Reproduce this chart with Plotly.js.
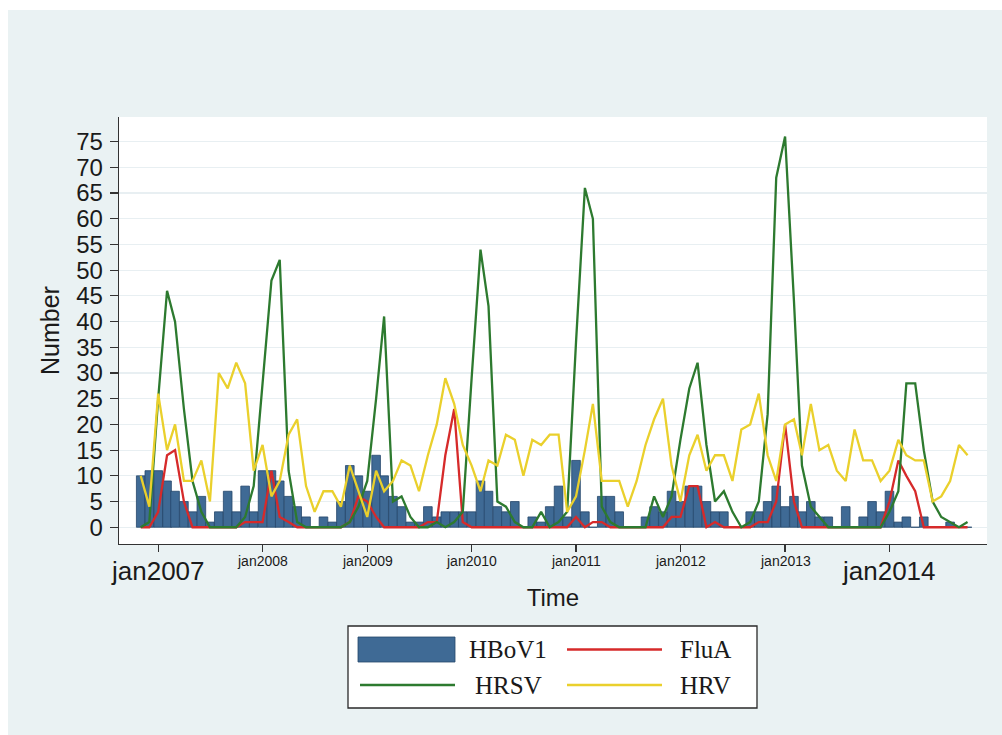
<!DOCTYPE html>
<html>
<head>
<meta charset="utf-8">
<script src="https://cdn.plot.ly/plotly-3.0.1.min.js"></script>
<style>html,body{margin:0;padding:0;background:#fff;}#chart{width:1002px;height:735px;}</style>
</head>
<body>
<div id="chart"></div>
<script>
// ---------- DATA (monthly, Nov 2006 .. Oct 2014) ----------
const startYear = 2006, startMonth = 11, nMonths = 96;

// HBoV1 (bars)
const hbov1 = [
  10, 11,                                   // 2006 Nov-Dec
  11, 9, 7, 5, 3, 6, 1, 3, 7, 3, 8, 3,      // 2007
  11, 11, 9, 6, 4, 2, 0, 2, 1, 5, 12, 10,   // 2008
  7, 14, 10, 6, 4, 1, 1, 4, 2, 3, 3, 3,     // 2009
  3, 9, 7, 4, 3, 5, 0, 2, 1, 4, 8, 2,       // 2010
  13, 3, 0, 6, 6, 3, 0, 0, 2, 4, 3, 7,      // 2011
  5, 8, 8, 5, 3, 3, 0, 0, 3, 3, 5, 8,       // 2012
  4, 6, 3, 5, 2, 2, 0, 4, 0, 2, 5, 3,       // 2013
  7, 1, 2, 0, 2, 0, 0, 1, 0, 0              // 2014 Jan-Oct
];
// FluA (red)
const fluA = [
  0, 0,
  3, 14, 15, 5, 0, 0, 0, 0, 0, 0, 1, 1,
  1, 11, 2, 1, 0, 0, 0, 0, 0, 0, 1, 6,
  5, 2, 0, 0, 0, 0, 0, 1, 1, 14, 23, 1,
  0, 0, 0, 0, 0, 0, 0, 0, 0, 0, 0, 0,
  2, 0, 1, 1, 0, 0, 0, 0, 0, 0, 0, 2,
  2, 8, 8, 0, 1, 0, 0, 0, 0, 1, 1, 5,
  20, 5, 0, 0, 0, 0, 0, 0, 0, 0, 0, 0,
  5, 13, 10, 7, 0, 0, 0, 0, 0, 0
];
// HRSV (green)
const hrsv = [
  0, 1,
  25, 46, 40, 23, 9, 3, 0, 0, 0, 0, 2, 8,
  28, 48, 52, 11, 1, 0, 0, 0, 0, 0, 1, 4,
  9, 25, 41, 5, 6, 2, 0, 0, 1, 0, 1, 3,
  29, 54, 43, 5, 4, 1, 0, 0, 3, 0, 1, 3,
  36, 66, 60, 4, 1, 0, 0, 0, 0, 6, 2, 6,
  17, 27, 32, 16, 5, 7, 3, 0, 1, 5, 22, 68,
  76, 44, 12, 4, 2, 0, 0, 0, 0, 0, 0, 0,
  3, 7, 28, 28, 15, 5, 2, 1, 0, 1
];
// HRV (yellow)
const hrv = [
  10, 4,
  26, 15, 20, 9, 9, 13, 5, 30, 27, 32, 28, 11,
  16, 6, 9, 18, 21, 8, 3, 7, 7, 4, 12, 7,
  2, 11, 7, 9, 13, 12, 7, 14, 20, 29, 24, 16,
  12, 7, 13, 12, 18, 17, 10, 17, 16, 18, 18, 3,
  6, 15, 24, 9, 9, 9, 4, 9, 16, 21, 25, 12,
  5, 14, 18, 11, 14, 14, 9, 19, 20, 26, 14, 9,
  20, 21, 14, 24, 15, 16, 11, 9, 19, 13, 13, 9,
  11, 17, 14, 13, 13, 5, 6, 9, 16, 14
];

const tickDates  = ['2007-01-01','2008-01-01','2009-01-01','2010-01-01','2011-01-01','2012-01-01','2013-01-01','2014-01-01'];
const tickLabels = ['jan2007','jan2008','jan2009','jan2010','jan2011','jan2012','jan2013','jan2014'];
const tickBig    = [true, false, false, false, false, false, false, true];
const yTicks     = [0,5,10,15,20,25,30,35,40,45,50,55,60,65,70,75];
const seriesNames = ['HBoV1','FluA','HRSV','HRV'];

// ---------- month categories ----------
const months = [];
for (let i = 0; i < nMonths; i++) {
  const d = new Date(Date.UTC(startYear, startMonth - 1 + i, 1));
  months.push(d.toISOString().slice(0, 10));
}

// ---------- styling ----------
const C = { bar:'#3f6a95', barLine:'#24466b', red:'#d62a2a', green:'#2d7a2f', yellow:'#ead02c', text:'#1a1a1a', axis:'#333333', grid:'#e8eff2', bg:'#eaf2f3' };
const PL = 119, PR = 987, PT = 117, PB = 544;           // plot box in pixels
const px2x = p => (p - PL) / (PR - PL);
const px2y = p => (PB - p) / (PB - PT);

const traces = [
  { type:'bar', x: months, y: hbov1, name: seriesNames[0],
    width: 30.2 * 86400000,
    marker:{ color:C.bar, line:{ color:C.barLine, width:0.8 } } },
  { type:'scatter', mode:'lines', x: months, y: fluA, name: seriesNames[1], line:{ color:C.red, width:2.3 } },
  { type:'scatter', mode:'lines', x: months, y: hrsv, name: seriesNames[2], line:{ color:C.green, width:2.3 } },
  { type:'scatter', mode:'lines', x: months, y: hrv,  name: seriesNames[3], line:{ color:C.yellow, width:2.3 } }
];

const annotations = [];
tickDates.forEach((d, i) => {
  const big = tickBig[i];
  annotations.push({ xref:'x', yref:'paper', x: d, y: px2y(big ? 571 : 560.5),
    text: tickLabels[i], showarrow:false, xanchor:'center', yanchor:'middle',
    font:{ family:'Liberation Sans, Arial, sans-serif', size: big ? 26 : 14, color:C.text } });
});

// legend (drawn manually to match layout)
const legFont = { family:'Liberation Serif, Times New Roman, serif', size:25, color:C.text };
const legendItems = [
  { name: seriesNames[0], kind:'box',  color:C.bar,    x0:358, x1:455, y:649.5, tx:467 },
  { name: seriesNames[1], kind:'line', color:C.red,    x0:567, x1:662, y:649.5, tx:678 },
  { name: seriesNames[2], kind:'line', color:C.green,  x0:360, x1:455, y:685,   tx:473 },
  { name: seriesNames[3], kind:'line', color:C.yellow, x0:567, x1:662, y:685,   tx:678 }
];
const shapes = [
  // white outer border strips
  { type:'rect', xref:'paper', yref:'paper', x0:px2x(0), x1:px2x(1002), y0:px2y(0), y1:px2y(10), fillcolor:'#ffffff', line:{width:0}, layer:'below' },
  { type:'rect', xref:'paper', yref:'paper', x0:px2x(0), x1:px2x(8), y0:px2y(0), y1:px2y(735), fillcolor:'#ffffff', line:{width:0}, layer:'below' },
  // legend frame
  { type:'rect', xref:'paper', yref:'paper', x0:px2x(348), x1:px2x(757), y0:px2y(708), y1:px2y(626), fillcolor:'#ffffff', line:{ color:'#2a2a2a', width:1.3 } }
];
legendItems.forEach(it => {
  if (it.kind === 'box') {
    shapes.push({ type:'rect', xref:'paper', yref:'paper', x0:px2x(it.x0), x1:px2x(it.x1), y0:px2y(it.y + 12.5), y1:px2y(it.y - 12.5),
      fillcolor: it.color, line:{ color:C.barLine, width:0.8 } });
  } else {
    shapes.push({ type:'line', xref:'paper', yref:'paper', x0:px2x(it.x0), x1:px2x(it.x1), y0:px2y(it.y), y1:px2y(it.y),
      line:{ color: it.color, width:2.3 } });
  }
  annotations.push({ xref:'paper', yref:'paper', x:px2x(it.tx), y:px2y(it.y), text: it.name, showarrow:false,
    xanchor:'left', yanchor:'middle', font: legFont });
});

const layout = {
  width:1002, height:735,
  margin:{ l:PL, r:1002 - PR, t:PT, b:735 - PB, pad:0 },
  paper_bgcolor:C.bg, plot_bgcolor:'#ffffff',
  showlegend:false, hovermode:false, bargap:0,
  font:{ family:'Liberation Sans, Arial, sans-serif', color:C.text },
  xaxis:{ type:'date', range:['2006-08-17','2014-12-08'], tickmode:'array', tickvals: tickDates,
    showticklabels:false, ticks:'outside', ticklen:7, tickwidth:1.2, tickcolor:C.axis,
    showline:true, linecolor:C.axis, linewidth:1.3, showgrid:false, zeroline:false,
    title:{ text:'Time', font:{ family:'Liberation Sans, Arial, sans-serif', size:24, color:C.text }, standoff:38 } },
  yaxis:{ range:[-3.26, 79.8], tickmode:'array', tickvals: yTicks, ticktext: yTicks.map(String),
    ticks:'outside', ticklen:8, tickwidth:1.2, tickcolor:C.axis, ticklabelstandoff:2,
    tickfont:{ family:'Liberation Sans, Arial, sans-serif', size:24, color:C.text },
    showline:true, linecolor:C.axis, linewidth:1.3, showgrid:true, gridcolor:C.grid, gridwidth:1.2, zeroline:false,
    title:{ text:'Number', font:{ family:'Liberation Sans, Arial, sans-serif', size:25, color:C.text }, standoff:9 } },
  shapes: shapes,
  annotations: annotations
};

Plotly.newPlot('chart', traces, layout, { displayModeBar:false, staticPlot:true });
</script>
</body>
</html>
